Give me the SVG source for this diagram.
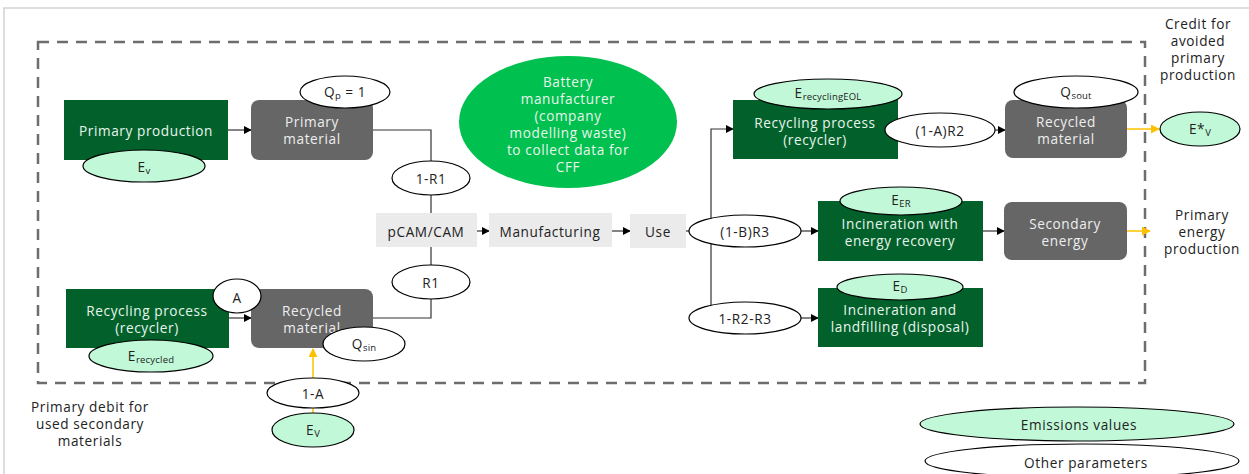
<svg xmlns="http://www.w3.org/2000/svg" width="1249" height="474" viewBox="0 0 1249 474">
  <defs>
    <marker id="arrow" viewBox="0 0 10 10" refX="9" refY="5" markerWidth="8" markerHeight="8" markerUnits="userSpaceOnUse" orient="auto">
      <path d="M0,0 L10,5 L0,10 z" fill="#000"/>
    </marker>
    <marker id="arrowY" viewBox="0 0 10 10" refX="9" refY="5" markerWidth="9" markerHeight="9" markerUnits="userSpaceOnUse" orient="auto">
      <path d="M0,0 L10,5 L0,10 z" fill="#ffc000"/>
    </marker>
    <style>
      text { font-family: "Open Sans", "Liberation Sans", sans-serif; font-size: 13.6px; letter-spacing: 0.6px; text-anchor: middle; dominant-baseline: central; }
      .proc { fill: #02612b; }
      .proc-t { fill: #e8f5ec; }
      .mat { fill: #666666; }
      .mat-t { fill: #eeeeee; }
      .step { fill: #ebebeb; }
      .step-t { fill: #222; }
      .emis { fill: #c1f9d8; stroke: #000; stroke-width: 1.2; }
      .param { fill: #fff; stroke: #000; stroke-width: 1.2; }
      .lbl { fill: #222; }
      .sub { font-size: 9.5px; letter-spacing: 0.2px; }
      .note { fill: #222; }
      .link { fill: none; stroke: #333; stroke-width: 1.2; }
      .link-a { fill: none; stroke: #333; stroke-width: 1.2; marker-end: url(#arrow); }
      .credit { fill: none; stroke: #ffc000; stroke-width: 1.5; marker-end: url(#arrowY); }
    </style>
  </defs>

  <!-- page frame -->
  <path d="M4,474 V8 H1249" fill="none" stroke="#d2d2d2" stroke-width="1.5"/>

  <!-- system boundary -->
  <rect x="38" y="42" width="1107" height="341" fill="none" stroke="#6d6d6d" stroke-width="2.5" stroke-dasharray="11 8"/>

  <!-- connectors -->
  <g id="connectors">
    <line class="link-a" x1="228" y1="130" x2="251" y2="130"/>
    <polyline class="link" points="373,130 431,130 431,213"/>
    <polyline class="link" points="431,247 431,318 373,318"/>
    <line class="link-a" x1="229" y1="318" x2="251" y2="318"/>
    <line class="link-a" x1="477" y1="231" x2="489" y2="231"/>
    <line class="link-a" x1="612" y1="231" x2="630" y2="231"/>
    <line class="link" x1="686" y1="231" x2="690" y2="231"/>
    <polyline class="link-a" points="711,318 711,129 733,129"/>
    <line class="link-a" x1="800" y1="231" x2="818" y2="231"/>
    <line class="link-a" x1="800" y1="318" x2="818" y2="318"/>
    <line class="link-a" x1="994" y1="130" x2="1005" y2="130"/>
    <line class="link-a" x1="983" y1="231" x2="1004" y2="231"/>
    <line class="credit" x1="1127" y1="129" x2="1159" y2="129"/>
    <line class="credit" x1="1127" y1="231" x2="1150" y2="231"/>
    <line class="credit" x1="313" y1="413" x2="313" y2="349"/>
  </g>

  <!-- upstream: primary route -->
  <g id="primary-production">
    <rect class="proc" x="64" y="100" width="164" height="60"/>
    <text class="proc-t" x="146" y="130">Primary production</text>
  </g>
  <g id="ev-primary">
    <ellipse class="emis" cx="144" cy="166" rx="61" ry="16"/>
    <text class="lbl" x="144" y="166">E<tspan class="sub" dy="4">v</tspan></text>
  </g>
  <g id="primary-material">
    <rect class="mat" x="251" y="100" width="122" height="60" rx="8"/>
    <text class="mat-t" x="312" y="121">Primary</text>
    <text class="mat-t" x="312" y="138">material</text>
  </g>
  <g id="qp">
    <ellipse class="param" cx="345" cy="92" rx="45" ry="16"/>
    <text class="lbl" x="345" y="91">Q<tspan class="sub" dy="4">p</tspan><tspan dy="-4"> = 1</tspan></text>
  </g>
  <g id="one-minus-r1">
    <ellipse class="param" cx="431" cy="178" rx="39" ry="17"/>
    <text class="lbl" x="431" y="178">1-R1</text>
  </g>

  <!-- upstream: recycled route -->
  <g id="recycling-in">
    <rect class="proc" x="66" y="289" width="163" height="59"/>
    <text class="proc-t" x="147" y="310">Recycling process</text>
    <text class="proc-t" x="147" y="327">(recycler)</text>
  </g>
  <g id="e-recycled">
    <ellipse class="emis" cx="151" cy="356" rx="62" ry="16"/>
    <text class="lbl" x="151" y="355">E<tspan class="sub" dy="4">recycled</tspan></text>
  </g>
  <g id="recycled-material-in">
    <rect class="mat" x="251" y="289" width="122" height="59" rx="8"/>
    <text class="mat-t" x="312" y="310">Recycled</text>
    <text class="mat-t" x="312" y="327">material</text>
  </g>
  <g id="a">
    <ellipse class="param" cx="237" cy="296" rx="24" ry="17"/>
    <text class="lbl" x="237" y="297">A</text>
  </g>
  <g id="qsin">
    <ellipse class="param" cx="364" cy="344" rx="41" ry="17"/>
    <text class="lbl" x="364" y="343">Q<tspan class="sub" dy="4">sin</tspan></text>
  </g>
  <g id="r1">
    <ellipse class="param" cx="431" cy="282" rx="39" ry="17"/>
    <text class="lbl" x="431" y="282">R1</text>
  </g>
  <g id="one-minus-a">
    <ellipse class="param" cx="313" cy="393" rx="46" ry="15"/>
    <text class="lbl" x="313" y="393">1-A</text>
  </g>
  <g id="ev-debit">
    <ellipse class="emis" cx="313" cy="430" rx="41" ry="17"/>
    <text class="lbl" x="313" y="429">E<tspan class="sub" dy="4">V</tspan></text>
  </g>
  <g id="debit-note">
    <text class="note" x="90" y="406">Primary debit for</text>
    <text class="note" x="90" y="423">used secondary</text>
    <text class="note" x="90" y="440">materials</text>
  </g>

  <!-- life cycle chain -->
  <g id="battery-manufacturer">
    <ellipse cx="568" cy="122" rx="109" ry="66" fill="#00c04f"/>
    <text class="proc-t" x="568" y="81">Battery</text>
    <text class="proc-t" x="568" y="98">manufacturer</text>
    <text class="proc-t" x="568" y="115">(company</text>
    <text class="proc-t" x="568" y="132">modelling waste)</text>
    <text class="proc-t" x="568" y="149">to collect data for</text>
    <text class="proc-t" x="568" y="166">CFF</text>
  </g>
  <g id="pcam-cam">
    <rect class="step" x="376" y="213" width="101" height="34"/>
    <text class="step-t" x="426" y="231">pCAM/CAM</text>
  </g>
  <g id="manufacturing">
    <rect class="step" x="489" y="213" width="123" height="34"/>
    <text class="step-t" x="550" y="231">Manufacturing</text>
  </g>
  <g id="use">
    <rect class="step" x="630" y="214" width="56" height="34"/>
    <text class="step-t" x="658" y="231">Use</text>
  </g>

  <!-- end of life -->
  <g id="recycling-eol">
    <rect class="proc" x="733" y="100" width="165" height="59"/>
    <text class="proc-t" x="815" y="122">Recycling process</text>
    <text class="proc-t" x="815" y="139">(recycler)</text>
  </g>
  <g id="e-recycling-eol">
    <ellipse class="emis" cx="828" cy="94" rx="74" ry="15"/>
    <text class="lbl" x="828" y="92">E<tspan class="sub" dy="4">recyclingEOL</tspan></text>
  </g>
  <g id="one-minus-a-r2">
    <ellipse class="param" cx="940" cy="130" rx="55" ry="17"/>
    <text class="lbl" x="940" y="130">(1-A)R2</text>
  </g>
  <g id="recycled-material-out">
    <rect class="mat" x="1005" y="100" width="122" height="58" rx="8"/>
    <text class="mat-t" x="1066" y="121">Recycled</text>
    <text class="mat-t" x="1066" y="138">material</text>
  </g>
  <g id="qsout">
    <ellipse class="param" cx="1076" cy="92" rx="62" ry="16"/>
    <text class="lbl" x="1076" y="91">Q<tspan class="sub" dy="4">sout</tspan></text>
  </g>
  <g id="ev-star">
    <ellipse class="emis" cx="1200" cy="129" rx="40" ry="17"/>
    <text class="lbl" x="1200" y="128">E*<tspan class="sub" dy="4">V</tspan></text>
  </g>
  <g id="credit-note">
    <text class="note" x="1198" y="23">Credit for</text>
    <text class="note" x="1198" y="40">avoided</text>
    <text class="note" x="1198" y="57">primary</text>
    <text class="note" x="1198" y="74">production</text>
  </g>

  <g id="one-minus-b-r3">
    <ellipse class="param" cx="745" cy="231" rx="56" ry="16"/>
    <text class="lbl" x="745" y="231">(1-B)R3</text>
  </g>
  <g id="incineration-er">
    <rect class="proc" x="818" y="201" width="165" height="60"/>
    <text class="proc-t" x="900" y="223">Incineration with</text>
    <text class="proc-t" x="900" y="240">energy recovery</text>
  </g>
  <g id="e-er">
    <ellipse class="emis" cx="901" cy="201" rx="61" ry="14"/>
    <text class="lbl" x="901" y="199">E<tspan class="sub" dy="4">ER</tspan></text>
  </g>
  <g id="secondary-energy">
    <rect class="mat" x="1004" y="202" width="123" height="58" rx="8"/>
    <text class="mat-t" x="1065" y="223">Secondary</text>
    <text class="mat-t" x="1065" y="240">energy</text>
  </g>
  <g id="energy-note">
    <text class="note" x="1202" y="214">Primary</text>
    <text class="note" x="1202" y="231">energy</text>
    <text class="note" x="1202" y="248">production</text>
  </g>

  <g id="one-minus-r2-r3">
    <ellipse class="param" cx="745" cy="318" rx="56" ry="16"/>
    <text class="lbl" x="745" y="318">1-R2-R3</text>
  </g>
  <g id="disposal">
    <rect class="proc" x="818" y="288" width="165" height="59"/>
    <text class="proc-t" x="900" y="309">Incineration and</text>
    <text class="proc-t" x="900" y="326">landfilling (disposal)</text>
  </g>
  <g id="e-d">
    <ellipse class="emis" cx="900" cy="287" rx="63" ry="13"/>
    <text class="lbl" x="900" y="285">E<tspan class="sub" dy="4">D</tspan></text>
  </g>

  <!-- legend -->
  <g id="legend-emissions">
    <ellipse class="emis" cx="1077" cy="424" rx="157" ry="17"/>
    <text class="lbl" x="1079" y="424">Emissions values</text>
  </g>
  <g id="legend-parameters">
    <ellipse class="param" cx="1082" cy="461" rx="157" ry="17"/>
    <text class="lbl" x="1086" y="462">Other parameters</text>
  </g>
</svg>
